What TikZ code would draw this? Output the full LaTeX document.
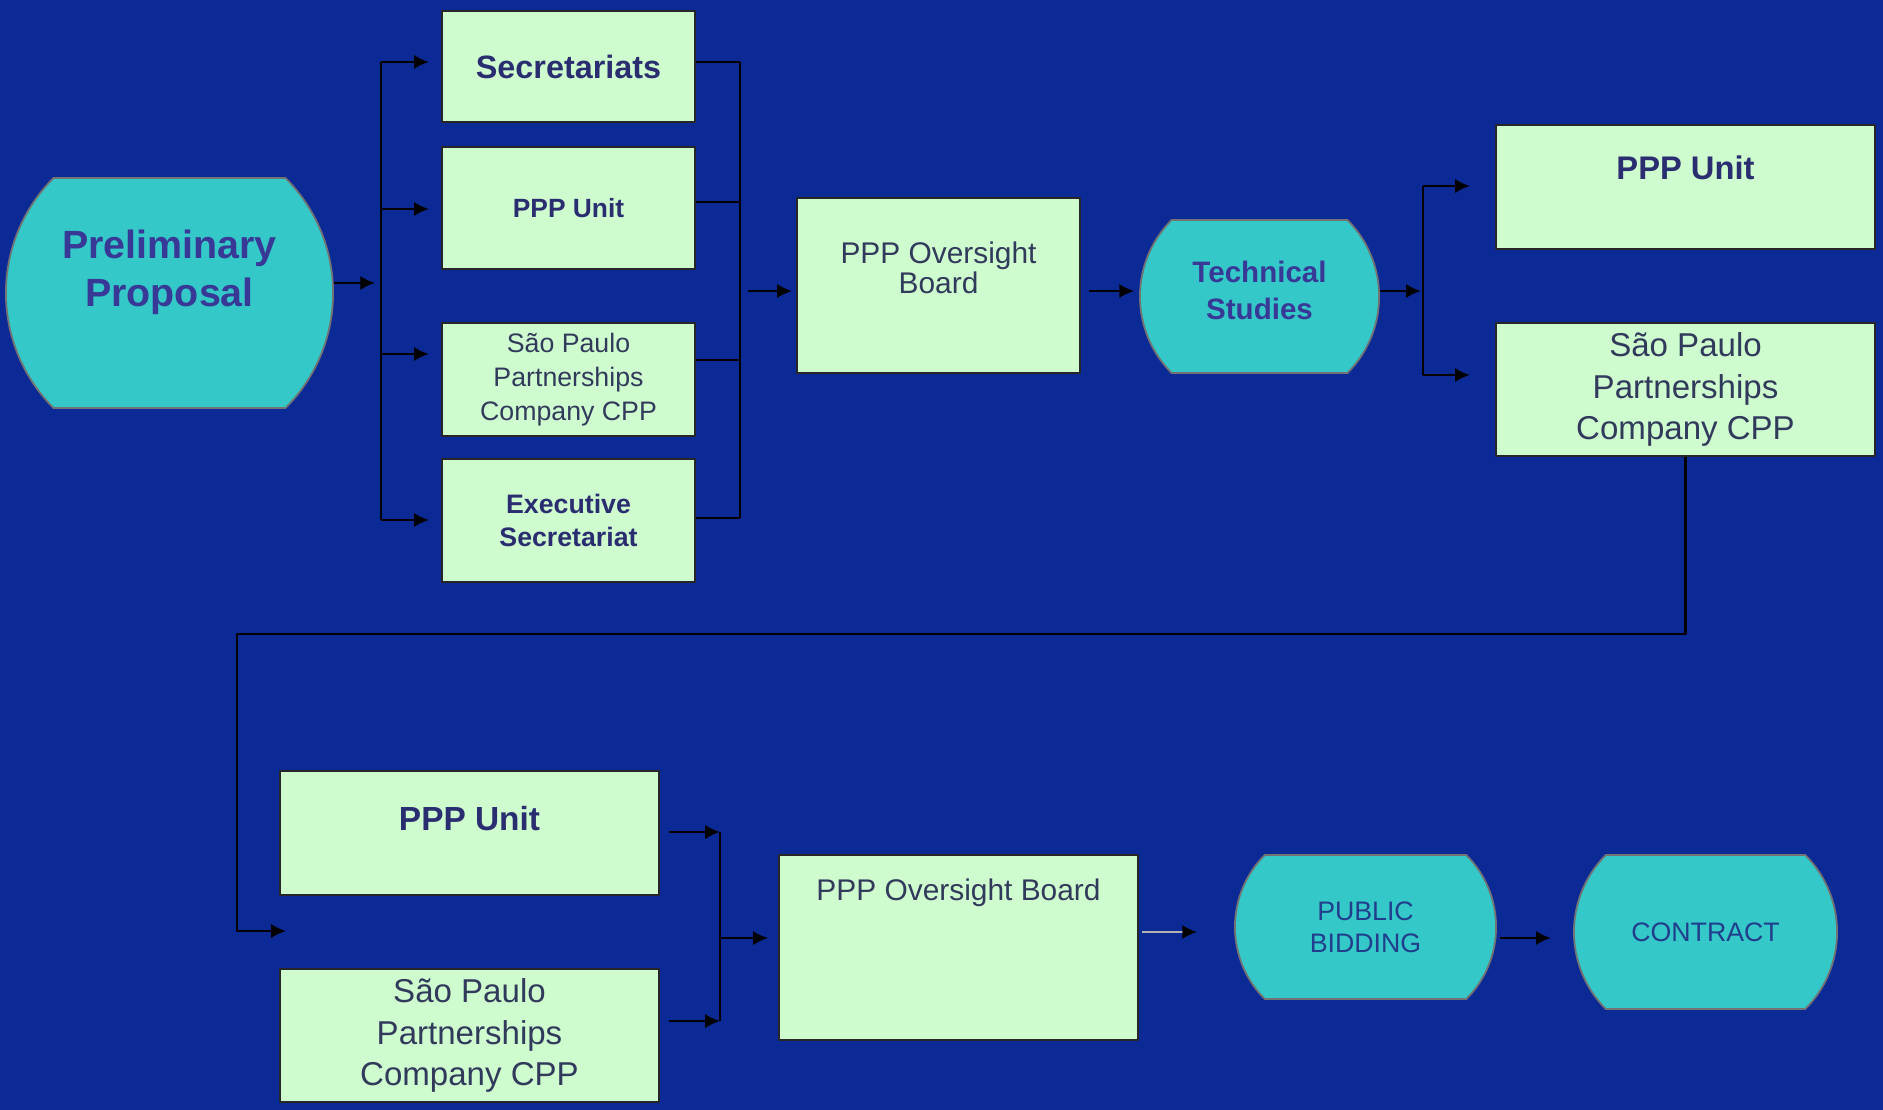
\documentclass[tikz,border=0pt]{standalone}
\usepackage{fontspec}
\setmainfont{Liberation Sans}
\usetikzlibrary{arrows.meta,shapes.misc}
\definecolor{deepblue}{RGB}{12,42,150}
\definecolor{mint}{RGB}{206,252,206}
\definecolor{capsule}{RGB}{52,200,200}
\definecolor{inknavy}{RGB}{42,46,112}
\definecolor{inkviolet}{RGB}{56,56,150}
\definecolor{inkslate}{RGB}{50,58,92}
\definecolor{inkblue}{RGB}{32,62,140}
\begin{document}
\begin{tikzpicture}[x=0.01cm,y=-0.01cm,>={Latex[length=4.2pt,width=4pt]}, line join=round,
    box/.style={draw=black!85,line width=0.6pt,fill=mint,align=center,text=inkslate,inner sep=0pt},
    pill/.style={rounded rectangle,rounded rectangle arc length=90,draw=black!55,line width=0.5pt,
        fill=capsule,align=center,inner sep=0pt},
    link/.style={line width=0.6pt,draw=black}]
    \useasboundingbox (0,0) rectangle (1883,1110);
    \fill[deepblue] (0,0) rectangle (1883,1110);
    % start
    \node[pill,minimum width=3.27cm,minimum height=2.30cm,text=inkviolet,text depth=14.3pt,
        font=\fontsize{11.2}{13.7}\selectfont\bfseries] (prelim) at (169.5,293) {Preliminary\\Proposal};
    % first column
    \node[box,minimum width=2.53cm,minimum height=1.11cm,text=inknavy,
        font=\fontsize{9.2}{11}\selectfont\bfseries] (sec) at (568.5,66.5) {Secretariats};
    \node[box,minimum width=2.53cm,minimum height=1.22cm,text=inknavy,
        font=\fontsize{7.5}{9}\selectfont\bfseries] (unitA) at (568.5,208) {PPP Unit};
    \node[box,minimum width=2.53cm,minimum height=1.13cm,
        font=\fontsize{7.6}{9.6}\selectfont] (cppA) at (568.5,379.5) {São Paulo\\Partnerships\\Company CPP};
    \node[box,minimum width=2.53cm,minimum height=1.23cm,text=inknavy,
        font=\fontsize{7.6}{9.6}\selectfont\bfseries] (exec) at (568.5,520.5) {Executive\\Secretariat};
    \node[box,minimum width=2.83cm,minimum height=1.75cm,text depth=10pt,
        font=\fontsize{8.5}{8.6}\selectfont] (boardA) at (938.5,285.5) {PPP Oversight\\Board};
    \node[pill,minimum width=2.39cm,minimum height=1.53cm,text=inkviolet,text depth=3.4pt,
        font=\fontsize{8.4}{10.5}\selectfont\bfseries] (tech) at (1259.5,296.5) {Technical\\Studies};
    % right column
    \node[box,minimum width=3.79cm,minimum height=1.24cm,text=inknavy,text height=7pt,text depth=11.1pt,
        font=\fontsize{9.3}{11}\selectfont\bfseries] (unitB) at (1685.5,187) {PPP Unit};
    \node[box,minimum width=3.79cm,minimum height=1.33cm,
        font=\fontsize{9.4}{11.8}\selectfont] (cppB) at (1685.5,389.5) {São Paulo\\Partnerships\\Company CPP};
    % second row
    \node[box,minimum width=3.79cm,minimum height=1.24cm,text=inknavy,text height=7pt,text depth=8.7pt,
        font=\fontsize{9.5}{11}\selectfont\bfseries] (unitC) at (469.5,833) {PPP Unit};
    \node[box,minimum width=3.79cm,minimum height=1.33cm,
        font=\fontsize{9.4}{11.8}\selectfont] (cppC) at (469.5,1035.5) {São Paulo\\Partnerships\\Company CPP};
    \node[box,minimum width=3.59cm,minimum height=1.85cm,text height=7pt,text depth=33.6pt,
        font=\fontsize{8.5}{10}\selectfont] (boardB) at (958.5,947.5) {PPP Oversight Board};
    \node[pill,minimum width=2.61cm,minimum height=1.44cm,text=inkblue,
        font=\fontsize{7.6}{9.2}\selectfont] (bid) at (1365.5,927) {PUBLIC\\BIDDING};
    \node[pill,minimum width=2.63cm,minimum height=1.54cm,text=inkblue,
        font=\fontsize{7.6}{9.2}\selectfont] (contract) at (1705.5,932) {CONTRACT};
    % fan out to the secretariats
    \coordinate (fanA) at (381,283);
    \coordinate (fanTop) at (381,62);
    \coordinate (fanBot) at (381,520);
    \draw[link,->,shorten >=1.7pt] (prelim.east |- fanA) -- (fanA);
    \draw[link] (fanTop) -- (fanBot);
    \foreach \n/\y in {sec/62,unitA/209,cppA/354,exec/520}
        \draw[link,->,shorten >=3.4pt] (fanTop |- 0,\y) -- (\n.west |- 0,\y);
    % join into the board
    \coordinate (joinTop) at (740,62);
    \coordinate (joinBot) at (740,518);
    \foreach \n/\y in {sec/62,unitA/202,cppA/360,exec/518}
        \draw[link] (\n.east |- 0,\y) -- (joinTop |- 0,\y);
    \draw[link] (joinTop) -- (joinBot);
    \draw[link,->,shorten <=2.3pt,shorten >=1.1pt] (joinTop |- 0,291) -- (boardA.west |- 0,291);
    \draw[link,->,shorten <=2.3pt,shorten >=1.4pt] (boardA.east |- 0,291) -- (tech.west |- 0,291);
    % fork after the studies
    \coordinate (forkTop) at (1423,186);
    \coordinate (forkBot) at (1423,375);
    \draw[link,->,shorten >=0.6pt] (tech.east |- 0,291) -- (forkTop |- 0,291);
    \draw[link] (forkTop) -- (forkBot);
    \draw[link,->,shorten >=7.1pt] (forkTop) -- (unitB.west |- forkTop);
    \draw[link,->,shorten >=7.1pt] (forkBot) -- (cppB.west |- forkBot);
    % back to the second row
    \coordinate (loopTop) at (237,634);
    \coordinate (loopBot) at (237,931);
    \draw[link,->] (cppB.south) |- (loopTop) -- (loopBot) -- ++(49,0);
    \coordinate (mergeTop) at (720,832);
    \coordinate (mergeBot) at (720,1021);
    \draw[link,->,shorten <=2.6pt] (unitC.east |- mergeTop) -- (mergeTop);
    \draw[link,->,shorten <=2.6pt] (cppC.east |- mergeBot) -- (mergeBot);
    \draw[link] (mergeTop) -- (mergeBot);
    \draw[link,->,shorten >=2.8pt] (mergeTop |- 0,938) -- (boardB.west |- 0,938);
    \draw[link,draw=gray!60,-{Latex[length=4.2pt,width=4pt,color=black]},shorten <=0.9pt,shorten >=10.5pt]
        (boardB.east |- 0,932) -- (bid.west |- 0,932);
    \draw[link,->,shorten <=0.9pt,shorten >=6.3pt] (bid.east |- 0,938) -- (contract.west |- 0,938);
\end{tikzpicture}
\end{document}
